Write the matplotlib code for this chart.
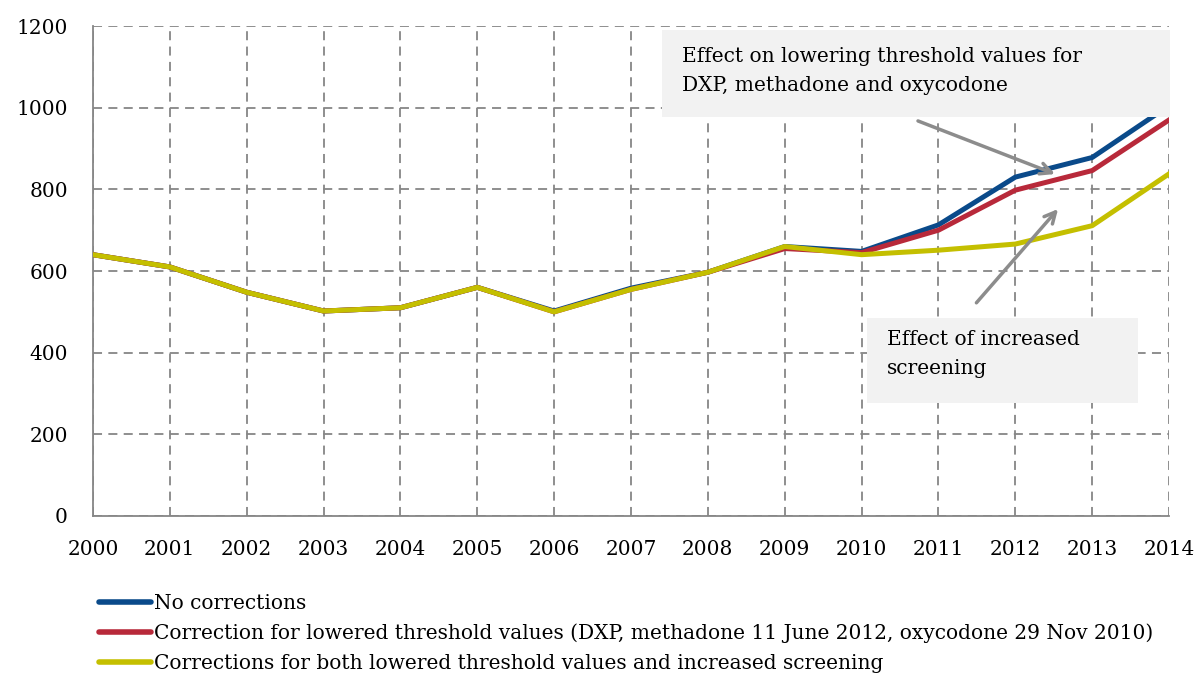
import numpy as np
import matplotlib
matplotlib.use('Agg')
import matplotlib.pyplot as plt
from matplotlib.lines import Line2D
from matplotlib.patches import Rectangle

plt.rcParams['font.family'] = ['DejaVu Serif']

years = list(range(2000, 2015))
no_corr = [640, 610, 548, 502, 510, 560, 502, 558, 597, 660, 648, 713, 830, 878, 1005]
thresh_corr = [640, 610, 548, 502, 510, 560, 500, 555, 597, 655, 645, 700, 798, 846, 970]
both_corr = [640, 610, 548, 502, 510, 560, 500, 555, 597, 660, 640, 651, 666, 711, 838]

labels = ['No corrections',
          'Correction for lowered threshold values (DXP, methadone 11 June 2012, oxycodone 29 Nov 2010)',
          'Corrections for both lowered threshold values and increased screening']
colors = ['#0a4a8a', '#b8293a', '#c4bf00']
fs = 14.5

fig = plt.figure(figsize=(12.01, 6.76), dpi=100)
ax = fig.add_axes([0.0774, 0.2367, 0.896, 0.7248])

ax.plot(years, no_corr, color=colors[0], lw=3.6, zorder=3)
ax.plot(years, thresh_corr, color=colors[1], lw=3.6, zorder=4)
ax.plot(years, both_corr, color=colors[2], lw=3.6, zorder=5)

ax.set_xlim(2000, 2014)
ax.set_ylim(0, 1200)
ax.set_xticks(years)
ax.set_yticks(range(0, 1201, 200))
ax.tick_params(labelsize=fs, length=0)
ax.tick_params(axis='y', pad=18)
ax.tick_params(axis='x', pad=17)
ax.grid(True, ls=(0, (5, 3.5)), color='#868686', lw=1.3)
for s in ['top', 'right']:
    ax.spines[s].set_visible(False)
for s in ['left', 'bottom']:
    ax.spines[s].set_color('#868686')
    ax.spines[s].set_linewidth(1.3)
ax.set_axisbelow(True)

# annotation boxes
ax.add_patch(Rectangle((0.529, 0.814), 0.472, 0.178, transform=ax.transAxes,
                       fc='#f2f2f2', ec='none', zorder=6, clip_on=False))
ax.text(0.547, 0.957, 'Effect on lowering threshold values for\nDXP, methadone and oxycodone',
        transform=ax.transAxes, fontsize=fs, va='top', ha='left', linespacing=1.65, zorder=7)
ax.add_patch(Rectangle((0.719, 0.231), 0.252, 0.173, transform=ax.transAxes,
                       fc='#f2f2f2', ec='none', zorder=6))
ax.text(0.738, 0.380, 'Effect of increased\nscreening',
        transform=ax.transAxes, fontsize=fs, va='top', ha='left', linespacing=1.7, zorder=7)

ax.annotate('', xy=(2012.55, 835), xytext=(2010.7, 970),
            arrowprops=dict(arrowstyle='->,head_width=0.4,head_length=0.8', color='#8c8c8c', lw=2.5), zorder=8)
ax.annotate('', xy=(2012.58, 757), xytext=(2011.47, 517),
            arrowprops=dict(arrowstyle='->,head_width=0.4,head_length=0.8', color='#8c8c8c', lw=2.5), zorder=8)

handles = [Line2D([], [], color=c, lw=4, solid_capstyle='round') for c in colors]
fig.legend(handles, labels, loc='upper left', bbox_to_anchor=(0.074, 0.136), frameon=False,
           fontsize=fs, handlelength=2.6, handletextpad=0.15, labelspacing=0.52, borderpad=0)

fig.savefig('out.png', dpi=100)
